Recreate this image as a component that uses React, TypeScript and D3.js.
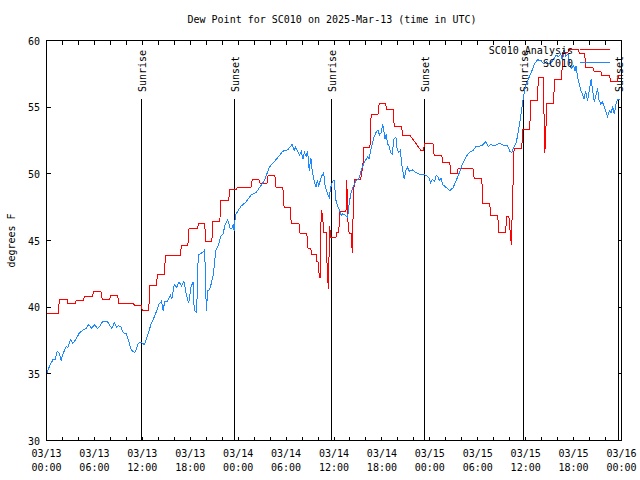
import React from "react";
import * as d3 from "d3";

const TITLE = "Dew Point for SC010 on 2025-Mar-13 (time in UTC)";
const Y_LABEL = "degrees F";
const SERIES_NAMES = ["SC010 Analysis", "SC010"];
const SERIES_COLORS = ["#ff0000", "#1e88ff"];

const X_TICK_HOURS = [0, 6, 12, 18, 24, 30, 36, 42, 48, 54, 60, 66, 72];
const X_TICK_DATES = ["03/13", "03/13", "03/13", "03/13", "03/14", "03/14", "03/14", "03/14", "03/15", "03/15", "03/15", "03/15", "03/16"];
const X_TICK_TIMES = ["00:00", "06:00", "12:00", "18:00", "00:00", "06:00", "12:00", "18:00", "00:00", "06:00", "12:00", "18:00", "00:00"];
const Y_TICKS = [30, 35, 40, 45, 50, 55, 60];

const SUN_HOURS = [11.8, 23.54, 35.66, 47.33, 59.72, 71.5];
const SUN_LABELS = ["Sunrise", "Sunset", "Sunrise", "Sunset", "Sunrise", "Sunset"];

// hours since 2025-03-13 00:00 UTC, dew point F
const analysisSeries: [number, number][] = [
  [0, 39.5], [1.5, 39.5], [1.6, 40.55], [2.6, 40.55], [2.7, 40.25], [3.6, 40.25], [3.7, 40.5], [4.6, 40.5],
  [4.75, 40.8], [5.75, 40.8], [5.9, 41.2], [6.8, 41.2], [7.0, 40.55], [7.9, 40.55], [8.05, 40.9], [8.9, 40.9],
  [9.05, 40.25], [10.9, 40.25], [11.05, 40.1], [11.9, 40.1], [12.0, 39.75], [12.8, 39.75], [12.95, 41.65],
  [13.75, 41.65], [13.9, 42.45], [14.75, 42.45], [14.9, 43.9], [16.75, 43.9], [16.9, 44.65], [17.7, 44.65],
  [17.85, 45.9], [18.9, 45.9], [19.05, 46.3], [19.8, 46.3], [19.95, 44.9], [20.7, 44.9], [20.85, 46.45],
  [21.7, 46.45], [21.85, 48.0], [22.8, 48.0], [22.95, 48.8], [23.7, 48.8], [23.85, 48.95], [25.6, 48.95],
  [25.75, 49.55], [26.6, 49.55], [26.75, 49.3], [27.6, 49.3], [27.75, 49.85], [28.6, 49.85], [28.75, 48.95],
  [29.6, 48.95], [29.75, 47.5], [30.5, 47.5], [30.65, 46.3], [31.6, 46.3], [31.75, 45.5], [32.6, 45.5],
  [32.75, 44.4], [33.1, 44.4], [33.2, 43.95], [33.75, 43.95], [33.85, 43.4], [34.0, 43.4], [34.1, 42.6],
  [34.25, 42.2], [34.4, 47.25], [34.55, 46.9], [34.75, 45.6], [35.05, 45.6], [35.15, 42.6], [35.3, 41.4],
  [35.45, 46.1], [35.6, 45.25], [36.25, 45.25], [36.35, 45.6], [36.6, 45.6], [36.7, 47.15], [37.5, 47.15],
  [37.6, 49.5], [37.75, 46.4], [37.9, 45.5], [38.15, 45.5], [38.3, 44.05], [38.45, 48.75], [38.6, 49.55],
  [39.35, 49.55], [39.45, 50.25], [39.6, 50.25], [39.7, 52.0], [40.5, 52.0], [40.65, 54.45], [41.5, 54.45],
  [41.65, 55.25], [42.45, 55.25], [42.6, 54.8], [43.4, 54.8], [43.55, 53.55], [44.45, 53.55], [44.6, 52.9],
  [45.5, 52.9], [46.9, 51.75], [47.2, 51.75], [47.35, 52.25], [48.4, 52.25], [48.55, 51.35], [49.5, 51.35],
  [49.65, 50.85], [50.5, 50.85], [50.65, 50.0], [51.4, 50.0], [51.55, 50.43], [53.4, 50.43], [53.55, 49.65],
  [54.5, 49.65], [54.65, 47.75], [55.5, 47.75], [55.65, 46.85], [56.5, 46.85], [56.65, 45.6], [57.5, 45.6],
  [57.6, 46.8], [57.9, 46.8], [58.2, 44.7], [58.55, 51.9], [59.5, 51.9], [59.65, 53.3], [60.5, 53.3],
  [60.65, 55.5], [61.45, 55.5], [61.6, 57.2], [62.2, 57.2], [62.4, 51.6], [62.5, 52.8], [62.65, 55.25],
  [63.5, 55.25], [63.6, 57.1], [64.5, 57.1], [64.65, 59.1], [65.3, 59.1], [65.4, 59.3], [66.6, 59.3],
  [66.75, 59.0], [67.4, 59.0], [67.5, 58.0], [68.4, 58.0], [68.55, 57.7], [69.4, 57.7], [69.55, 57.4],
  [70.5, 57.4], [70.65, 56.95], [71.5, 56.95], [71.65, 57.4], [72, 57.4],
];

const observedSeries: [number, number][] = [
  [0.0, 35.0], [0.4, 35.6], [0.8, 36.05], [1.1, 36.1], [1.33, 36.7], [1.6, 36.55], [1.83, 36.0], [2.0, 36.4],
  [2.45, 37.05], [2.67, 37.0], [3.0, 37.55], [3.3, 37.3], [3.7, 37.6], [4.1, 38.05], [4.5, 38.25], [4.95, 38.4],
  [5.3, 38.7], [5.6, 38.42], [6.0, 38.67], [6.4, 38.4], [6.7, 38.6], [7.0, 38.9], [7.65, 38.9], [7.95, 38.6],
  [8.2, 38.4], [8.5, 38.85], [8.75, 38.5], [9.0, 38.6], [9.3, 38.55], [9.6, 38.1], [10.0, 38.0], [10.25, 37.55],
  [10.6, 36.8], [11.0, 36.6], [11.2, 36.75], [11.5, 37.3], [11.85, 37.35], [12.25, 37.2], [12.7, 37.95],
  [13.1, 38.75], [13.6, 39.4], [14.1, 40.25], [14.4, 40.45], [14.6, 39.75], [14.8, 40.4], [15.1, 40.4],
  [15.5, 40.9], [15.7, 40.65], [16.0, 41.7], [16.3, 41.5], [16.6, 41.9], [16.9, 41.6], [17.2, 41.95],
  [17.5, 41.0], [17.8, 40.3], [18.1, 41.5], [18.35, 41.9], [18.5, 39.75], [18.8, 39.6], [19.0, 43.9],
  [19.3, 44.0], [19.6, 44.15], [19.75, 44.25], [19.9, 42.9], [20.0, 39.75], [20.2, 41.25], [20.4, 41.3],
  [20.6, 41.7], [20.9, 42.5], [21.2, 44.25], [21.5, 44.6], [21.8, 45.3], [22.1, 45.5], [22.4, 46.25],
  [22.7, 46.55], [23.0, 45.9], [23.2, 45.9], [23.4, 46.2], [23.5, 45.7], [23.65, 46.9], [24.0, 47.25],
  [24.4, 47.6], [25.0, 47.9], [25.6, 48.4], [26.25, 48.6], [26.7, 49.0], [27.3, 49.5], [27.9, 50.5],
  [28.5, 50.9], [29.0, 51.25], [29.6, 51.7], [30.2, 51.8], [30.75, 52.2], [31.0, 51.75], [31.2, 52.0],
  [31.7, 51.4], [31.9, 51.7], [32.1, 51.1], [32.3, 51.6], [32.5, 51.3], [32.7, 51.7], [32.9, 50.25],
  [33.1, 51.2], [33.3, 50.1], [33.5, 49.5], [33.75, 49.0], [33.9, 49.5], [34.1, 49.1], [34.4, 49.75],
  [34.7, 50.1], [34.9, 49.0], [35.2, 48.5], [35.4, 48.2], [35.6, 49.0], [35.8, 49.4], [36.0, 49.55],
  [36.25, 48.0], [36.5, 47.5], [36.7, 47.25], [36.9, 46.9], [37.1, 47.0], [37.5, 46.85], [37.7, 46.75],
  [37.9, 47.75], [38.1, 48.5], [38.3, 48.9], [38.75, 49.5], [39.1, 49.6], [39.4, 50.25], [39.8, 50.9],
  [40.2, 51.25], [40.4, 51.15], [40.6, 51.75], [40.8, 52.25], [41.0, 52.75], [41.25, 53.1], [41.5, 53.3],
  [41.7, 52.9], [41.9, 53.1], [42.1, 53.75], [42.25, 53.2], [42.4, 52.6], [42.55, 53.0], [42.7, 52.25],
  [42.9, 52.1], [43.1, 51.6], [43.3, 51.5], [43.5, 52.6], [43.75, 52.75], [43.9, 51.9], [44.1, 51.6],
  [44.3, 51.75], [44.45, 50.9], [44.6, 50.25], [44.8, 49.6], [45.0, 50.25], [45.2, 50.5], [45.4, 50.2],
  [45.8, 50.3], [46.5, 50.0], [47.1, 49.95], [47.5, 49.9], [47.9, 49.7], [48.1, 49.3], [48.3, 49.6],
  [48.6, 49.4], [48.8, 49.9], [49.0, 49.8], [49.2, 49.5], [49.4, 49.7], [49.6, 49.2], [50.0, 49.0],
  [50.5, 48.75], [50.9, 48.95], [51.3, 49.5], [51.7, 50.1], [52.1, 50.75], [52.5, 51.25], [52.95, 51.6],
  [53.4, 51.75], [53.8, 52.05], [54.5, 52.1], [55.0, 52.4], [55.3, 52.05], [55.6, 52.2], [56.1, 52.1],
  [56.7, 52.3], [57.2, 52.15], [57.75, 52.1], [58.0, 51.7], [58.25, 51.6], [58.6, 52.1], [58.8, 52.3],
  [59.0, 52.9], [59.2, 53.6], [59.4, 54.4], [59.6, 55.25], [59.8, 56.0], [60.0, 56.6], [60.25, 57.0],
  [60.7, 57.6], [61.1, 58.25], [61.5, 58.55], [61.9, 58.5], [62.3, 58.25], [62.6, 58.4], [63.0, 58.25],
  [63.4, 58.5], [63.8, 58.9], [64.1, 58.8], [64.4, 59.0], [64.6, 58.5], [64.8, 59.25], [65.0, 58.8],
  [65.3, 59.0], [65.5, 58.25], [65.7, 57.9], [66.0, 58.1], [66.2, 57.7], [66.3, 58.1], [66.5, 57.25],
  [66.7, 56.75], [66.9, 56.25], [67.1, 56.0], [67.3, 55.6], [67.5, 56.2], [67.75, 55.5], [68.0, 56.4],
  [68.2, 57.1], [68.4, 56.2], [68.6, 55.4], [68.8, 55.9], [69.0, 56.4], [69.2, 55.5], [69.4, 55.25],
  [69.6, 55.4], [69.8, 55.1], [70.25, 54.3], [70.5, 54.75], [70.7, 54.6], [70.9, 55.0], [71.1, 54.5],
  [71.3, 55.2], [71.5, 55.6], [71.75, 55.6],
];

const FONT = "'DejaVu Sans Mono', 'Liberation Mono', monospace";

export default function App() {
  const width = 640;
  const height = 480;
  const x = d3.scaleLinear().domain([0, 72]).range([46.5, 621.5]);
  const y = d3.scaleLinear().domain([30, 60]).range([440.5, 40.5]);
  const line = d3
    .line<[number, number]>()
    .x((d) => x(d[0]))
    .y((d) => y(d[1]));
  const minorTicks = d3.range(0, 73, 2);
  const tickLen = 4;
  const [x0, x1] = x.range();
  const [yb, yt] = y.range();

  return (
    <svg
      width={width}
      height={height}
      style={{ position: "absolute", left: 0, top: 0, background: "#fff" }}
      fontFamily={FONT}
      fontSize={10}
    >
      <rect x={0} y={0} width={width} height={height} fill="#fff" />
      <text x={332} y={23} textAnchor="middle" fill="#000">
        {TITLE}
      </text>
      <text
        transform={`translate(15,${(yb + yt) / 2}) rotate(-90)`}
        textAnchor="middle"
        fill="#000"
      >
        {Y_LABEL}
      </text>

      {/* sun lines */}
      {SUN_HOURS.map((h, i) => (
        <g key={"sun" + i}>
          <line x1={Math.round(x(h)) + 0.5} x2={Math.round(x(h)) + 0.5} y1={99} y2={yb} stroke="#000" strokeWidth={1} shapeRendering="crispEdges" />
          <text
            transform={`translate(${Math.round(x(h)) + 5},92) rotate(-90)`}
            textAnchor="start"
            fill="#000"
          >
            {SUN_LABELS[i]}
          </text>
        </g>
      ))}

      {/* series */}
      <path d={line(analysisSeries) || ""} fill="none" stroke={SERIES_COLORS[0]} strokeWidth={1} shapeRendering="crispEdges" />
      <path d={line(observedSeries) || ""} fill="none" stroke={SERIES_COLORS[1]} strokeWidth={1} shapeRendering="crispEdges" />

      {/* frame */}
      <rect x={x0} y={yt} width={x1 - x0} height={yb - yt} fill="none" stroke="#000" strokeWidth={1} shapeRendering="crispEdges" />

      {/* x ticks */}
      {minorTicks.map((h) => (
        <g key={"xt" + h}>
          <line x1={x(h)} x2={x(h)} y1={yb} y2={yb - tickLen} stroke="#000" shapeRendering="crispEdges" />
          <line x1={x(h)} x2={x(h)} y1={yt} y2={yt + tickLen} stroke="#000" shapeRendering="crispEdges" />
        </g>
      ))}
      {X_TICK_HOURS.map((h, i) => (
        <g key={"xl" + h}>
          <text x={x(h)} y={457} textAnchor="middle" fill="#000">
            {X_TICK_DATES[i]}
          </text>
          <text x={x(h)} y={471} textAnchor="middle" fill="#000">
            {X_TICK_TIMES[i]}
          </text>
        </g>
      ))}

      {/* y ticks */}
      {Y_TICKS.map((v) => (
        <g key={"yt" + v}>
          <line x1={x0} x2={x0 + tickLen} y1={y(v)} y2={y(v)} stroke="#000" shapeRendering="crispEdges" />
          <line x1={x1} x2={x1 - tickLen} y1={y(v)} y2={y(v)} stroke="#000" shapeRendering="crispEdges" />
          <text x={40} y={y(v) + 4} textAnchor="end" fill="#000">
            {v}
          </text>
        </g>
      ))}

      {/* legend */}
      {SERIES_NAMES.map((name, i) => (
        <g key={"lg" + i}>
          <text x={573} y={54 + i * 13} textAnchor="end" fill="#000">
            {name}
          </text>
          <line x1={580} x2={610} y1={49.5 + i * 13} y2={49.5 + i * 13} stroke={SERIES_COLORS[i]} shapeRendering="crispEdges" />
        </g>
      ))}
    </svg>
  );
}
